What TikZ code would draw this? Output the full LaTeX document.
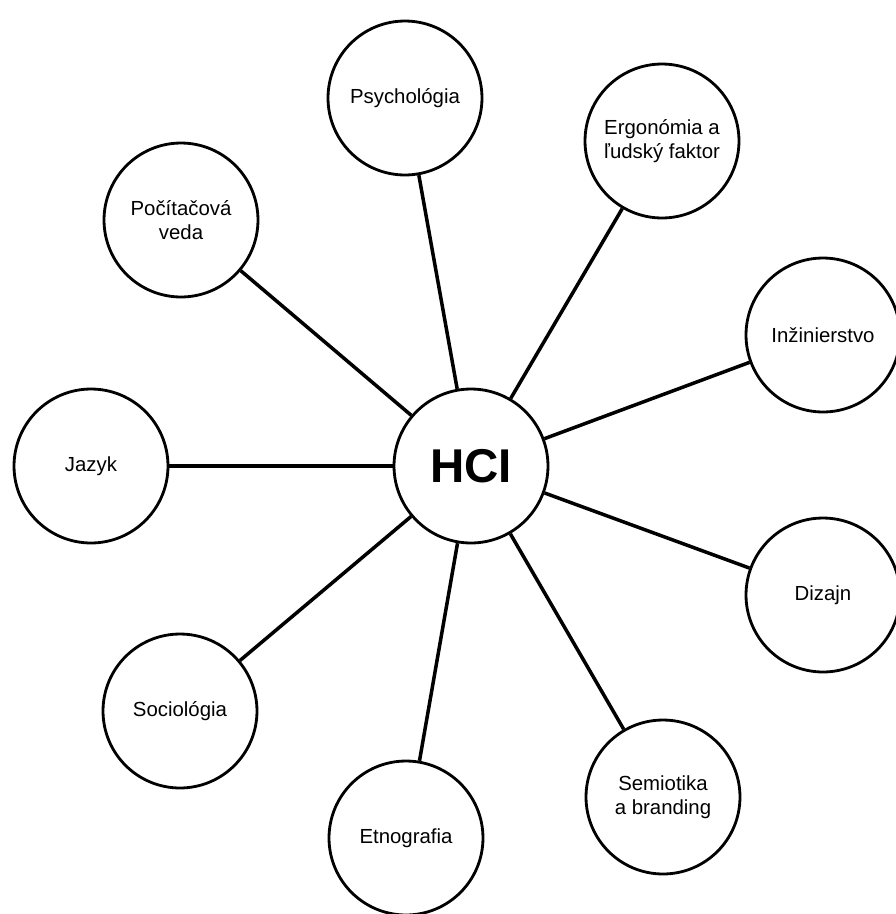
\documentclass[tikz,border=0pt]{standalone}
\usepackage{fontspec}
\setmainfont{Liberation Sans}
\usetikzlibrary{positioning}
\tikzset{
  obor/.style={draw, circle, line width=1.6pt, minimum size=3.08cm, inner sep=0pt, align=center, font=\fontsize{11.6}{13.6}\selectfont},
  spoj/.style={line width=2pt}
}
\begin{document}
\begin{tikzpicture}[x=0.02cm, y=-0.02cm]
  \useasboundingbox (0, 0) rectangle (896, 914);
  \node[obor, font=\fontsize{27}{30}\selectfont\bfseries] (hci) at (471, 466) {HCI};
  \node[obor] (psy) at (405, 98) {Psychológia};
  \node[obor] (ergo) at (662, 141) {Ergonómia a\\ľudský faktor};
  \node[obor] (pc) at (181, 220) {Počítačová\\veda};
  \node[obor] (inz) at (823, 335) {Inžinierstvo};
  \node[obor] (jaz) at (91, 466) {Jazyk};
  \node[obor] (diz) at (823, 595) {Dizajn};
  \node[obor] (soc) at (180, 711) {Sociológia};
  \node[obor] (sem) at (663, 797) {Semiotika\\a branding};
  \node[obor] (etno) at (406, 838) {Etnografia};
  \foreach \n in {psy, ergo, pc, inz, jaz, diz, soc, sem, etno}
    \draw[spoj] (hci) -- (\n);
\end{tikzpicture}
\end{document}
